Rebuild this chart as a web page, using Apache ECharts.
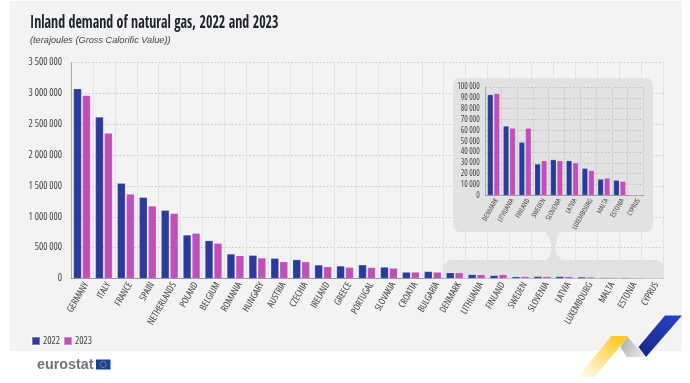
<!DOCTYPE html>
<html><head><meta charset="utf-8">
<style>html,body{margin:0;padding:0;background:#fff}#c{width:690px;height:383px}</style>
<script src="https://cdn.jsdelivr.net/npm/echarts@6/dist/echarts.min.js"></script>
</head><body><div id="c"></div>
<script>
const largeCountries = ['GERMANY','ITALY','FRANCE','SPAIN','NETHERLANDS','POLAND','BELGIUM','ROMANIA','HUNGARY','AUSTRIA','CZECHIA','IRELAND','GREECE','PORTUGAL','SLOVAKIA','CROATIA','BULGARIA'];
const large2022 = [3075000,2615000,1545000,1315000,1105000,705000,613000,397000,375000,327000,305000,219000,203000,221000,184000,103000,113000];
const large2023 = [2965000,2355000,1368000,1175000,1055000,732000,570000,370000,332000,272000,272000,191000,181000,178000,167000,103000,103000];
const smallCountries = ['DENMARK','LITHUANIA','FINLAND','SWEDEN','SLOVENIA','LATVIA','LUXEMBOURG','MALTA','ESTONIA','CYPRUS'];
const small2022 = [93000,64000,49000,29000,33000,32000,25000,15000,14000,200];
const small2023 = [94000,62000,62000,32000,32000,30000,23000,16000,13000,200];
const titleText = 'Inland demand of natural gas, 2022 and 2023';
const subtitleText = '(terajoules (Gross Calorific Value))';
const BLUE = '#2b3a9e', MAG = '#c04fb8', FONT = '"Open Sans",sans-serif';
const spaced = v => String(v).replace(/\B(?=(\d{3})+$)/g, ' ');
const chart = echarts.init(document.getElementById('c'), null, {renderer:'canvas'});
const grad = (x,y,x2,y2,a,b) => new echarts.graphic.LinearGradient(x,y,x2,y2,[{offset:0,color:a},{offset:1,color:b}]);
const poly = (points, fill, z) => ({type:'polygon', shape:{points}, style:{fill}, z:z||1, silent:true});
const stem = [[545,231],[548,236],[550.6,241],[551.6,246],[551.6,250],[550.6,254],[548,258],[545,261],[563,261],[560,258],[556.6,254],[555.4,250],[555.4,246],[556.6,241],[558,236],[561,231]];
const barSeries = (name,data,ax,color,width,gap) => ({
  type:'bar', name, data, xAxisIndex:ax, yAxisIndex:ax, barWidth:width, barGap:gap, z:4,
  itemStyle:{color, borderColor:'rgba(255,255,255,0.35)', borderWidth:0.5}, silent:true, animation:false
});
const cond = {fontFamily:FONT, fontStyle:'condensed', color:'#444'};
chart.setOption({
  animation:false,
  backgroundColor:'#fff',
  textStyle:{fontFamily:FONT},
  graphic:[
    {type:'rect', shape:{x:10,y:1,width:672,height:350}, style:{fill:'#f3f3f3'}, z:-10, silent:true},
    {type:'rect', shape:{x:453,y:78,width:200,height:154,r:7}, style:{fill:'#e2e2e2'}, z:1, silent:true},
    {type:'rect', shape:{x:444,y:260,width:219,height:18.5,r:[7,7,0,0]}, style:{fill:'#e2e2e2'}, z:1, silent:true},
    poly(stem,'#e2e2e2'),
    poly([[665,315.5],[682,315.5],[646,357],[638.5,347]], grad(0.8,0,0.2,1,'#2340c8','#1a2a86')),
    poly([[627,336.5],[646,357],[626.5,357],[620.5,347]], grad(0,0,1,1,'#a9a9ad','#eeeeef')),
    poly([[611.5,336],[628.5,336],[593.5,378],[577,378]], grad(0.7,0,0.1,1,'#ffca2c','#fffdf4')),
    {type:'text', x:30, y:15, scaleX:0.82, style:{text:titleText, font:'bold 17px "Open Sans Condensed"', fill:'#20242c'}, silent:true},
    {type:'text', x:30, y:35.5, style:{text:subtitleText, font:'italic 9.2px "Liberation Sans",sans-serif', fill:'#444'}, silent:true},
    {type:'text', x:37, y:358, style:{text:'eurostat', font:'bold 14.3px "Liberation Sans",sans-serif', fill:'#72747f'}, silent:true},
    {type:'rect', shape:{x:96,y:359.5,width:14.5,height:10}, style:{fill:'#17409a'}, silent:true},
    {type:'circle', shape:{cx:103.2,cy:364.5,r:3}, style:{fill:'none', stroke:'#e4c93c', lineWidth:1, lineDash:[1,0.8]}, silent:true}
  ],
  legend:{left:26, top:331, itemWidth:8, itemHeight:8, itemGap:3, icon:'rect', data:['2022','2023'],
    textStyle:{...cond, fontSize:10, padding:[0,0,0,-2]}},
  grid:[
    {left:71, right:27, top:62.5, height:216},
    {left:485.7, right:46.7, top:87, height:108.4}
  ],
  xAxis:[
    {type:'category', gridIndex:0, data:largeCountries.concat(smallCountries), z:0,
     axisLine:{lineStyle:{color:'#999',width:1}}, axisTick:{show:false},
     splitLine:{show:true, interval:0, lineStyle:{color:'#e3e3e3',width:1}},
     axisLabel:{...cond, interval:0, rotate:60, fontSize:9.5, margin:2, verticalAlign:'top'}},
    {type:'category', gridIndex:1, data:smallCountries, z:3,
     axisLine:{lineStyle:{color:'#999',width:1}}, axisTick:{show:false},
     splitLine:{show:true, interval:0, lineStyle:{color:'#d2d2d2',width:1}},
     axisLabel:{...cond, interval:0, rotate:60, fontSize:7, margin:2, verticalAlign:'top'}}
  ],
  yAxis:[
    {type:'value', gridIndex:0, min:0, max:3500000, interval:500000, z:0,
     axisLine:{show:true, lineStyle:{color:'#aaa',width:1}}, axisTick:{show:false},
     splitLine:{lineStyle:{color:'#c4c4c4',type:[1.5,2],width:1}},
     axisLabel:{...cond, fontSize:10, margin:9, formatter:spaced}},
    {type:'value', gridIndex:1, min:0, max:100000, interval:10000, z:3,
     axisLine:{show:true, lineStyle:{color:'#aaa',width:1}}, axisTick:{show:false},
     splitLine:{lineStyle:{color:'#bdbdbd',type:[1.5,2],width:1}},
     axisLabel:{...cond, fontSize:8.2, margin:6, formatter:spaced}}
  ],
  series:[
    barSeries('2022', large2022.concat(small2022), 0, BLUE, 8, '12%'),
    barSeries('2023', large2023.concat(small2023), 0, MAG, 8, '12%'),
    barSeries('2022', small2022, 1, BLUE, 5.7, '14%'),
    barSeries('2023', small2023, 1, MAG, 5.7, '14%')
  ]
});
</script></body></html>
